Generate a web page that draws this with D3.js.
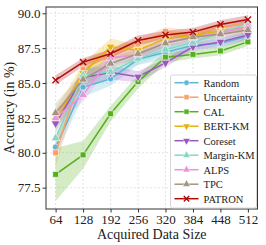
<!DOCTYPE html>
<html lang="en">
<head>
<meta charset="UTF-8">
<title>Accuracy vs data size</title>
<script src="https://cdn.jsdelivr.net/npm/d3@7"></script>
<style>
  body { margin: 0; background: #fff; }
  text { font-family: "Liberation Serif", "DejaVu Serif", serif; fill: #222; }
</style>
</head>
<body>
<script>
// data
var sizes = [64, 128, 192, 256, 320, 384, 448, 512];
var names = ["Random", "Uncertainty", "CAL", "BERT-KM", "Coreset", "Margin-KM", "ALPS", "TPC", "PATRON"];

var random      = [80.4, 84.7, 85.3, 86.7, 87.2, 87.7, 87.85, 88.35];
var uncertainty = [80.0, 86.0, 87.0, 87.8, 88.7, 88.5, 89.0, 89.3];
var cal         = [78.45, 79.85, 82.8, 85.1, 86.85, 87.05, 87.3, 87.95];
var bertkm      = [82.3, 85.7, 87.6, 87.35, 88.2, 88.4, 88.75, 88.95];
var coreset     = [82.1, 85.4, 85.75, 85.45, 86.45, 87.6, 87.95, 88.45];
var marginkm    = [81.05, 85.55, 85.8, 86.75, 87.4, 87.9, 88.6, 89.25];
var alps        = [82.5, 84.15, 86.8, 87.05, 87.9, 88.25, 88.6, 89.05];
var tpc         = [82.85, 85.25, 86.4, 87.1, 87.85, 88.3, 88.5, 88.8];
var patron      = [85.2, 86.5, 87.1, 88.05, 88.45, 88.65, 89.2, 89.55];

// spread (shaded band half-width)
var randomStd      = [0.6, 0.7, 0.5, 0.4, 0.5, 0.3, 0.3, 0.3];
var uncertaintyStd = [1.0, 0.6, 0.5, 0.4, 0.3, 0.3, 0.3, 0.3];
var calStd         = [1.9, 1.0, 0.55, 0.5, 0.4, 0.3, 0.3, 0.3];
var bertkmStd      = [0.8, 0.7, 0.6, 0.4, 0.3, 0.3, 0.3, 0.3];
var coresetStd     = [0.5, 0.6, 0.5, 0.4, 0.3, 0.3, 0.3, 0.3];
var marginkmStd    = [0.8, 0.6, 0.5, 0.4, 0.3, 0.3, 0.3, 0.3];
var alpsStd        = [0.6, 0.5, 0.5, 0.4, 0.3, 0.3, 0.3, 0.3];
var tpcStd         = [0.7, 0.5, 0.4, 0.3, 0.3, 0.3, 0.3, 0.3];
var patronStd      = [0.35, 0.3, 0.3, 0.35, 0.3, 0.3, 0.3, 0.3];

var yTicks = [77.5, 80.0, 82.5, 85.0, 87.5, 90.0];

var values = [random, uncertainty, cal, bertkm, coreset, marginkm, alps, tpc, patron];
var stds = [randomStd, uncertaintyStd, calStd, bertkmStd, coresetStd, marginkmStd, alpsStd, tpcStd, patronStd];
var colors = ["#5ab6d8", "#f7a068", "#55b01c", "#e6b20a", "#9a58bd", "#86d7c2", "#ea93dc", "#a39480", "#b00b0b"];
var shapes = ["circle", "square", "square", "down", "down", "up", "up", "up", "x"];

var series = names.map(function (n, i) {
    return {
        name: n, color: colors[i], shape: shapes[i],
        points: sizes.map(function (s, j) { return { x: s, y: values[i][j], sd: stds[i][j] }; })
    };
});

var width = 266, height = 245;
var margin = { left: 46, right: 8.5, top: 7, bottom: 36 };

var svg = d3.select("body").append("svg")
    .attr("width", width)
    .attr("height", height);

var x = d3.scaleLinear().domain([41.6, 534.4]).range([margin.left, width - margin.right]);
var y = d3.scaleLinear().domain([75.97, 90.45]).range([height - margin.bottom, margin.top]);

// grid
var grid = svg.append("g");
grid.selectAll(".gx").data(sizes).enter().append("line")
    .attr("x1", function (d) { return x(d); }).attr("x2", function (d) { return x(d); })
    .attr("y1", margin.top).attr("y2", height - margin.bottom)
    .attr("stroke", "#dddddd").attr("stroke-width", 0.8).attr("stroke-dasharray", "2,2");
grid.selectAll(".gy").data(yTicks).enter().append("line")
    .attr("y1", function (d) { return y(d); }).attr("y2", function (d) { return y(d); })
    .attr("x1", margin.left).attr("x2", width - margin.right)
    .attr("stroke", "#dddddd").attr("stroke-width", 0.8).attr("stroke-dasharray", "2,2");

// bands
var area = d3.area()
    .x(function (d) { return x(d.x); })
    .y0(function (d) { return y(d.y - d.sd); })
    .y1(function (d) { return y(d.y + d.sd); });
svg.append("g").selectAll("path").data(series).enter().append("path")
    .attr("d", function (d) { return area(d.points); })
    .attr("fill", function (d) { return d.color; })
    .attr("fill-opacity", 0.25);

var line = d3.line()
    .x(function (d) { return x(d.x); })
    .y(function (d) { return y(d.y); });

function marker(g, shape, color, size) {
    if (shape === "x") {
        g.append("path")
            .attr("d", d3.symbol().type(d3.symbolX).size(size * 0.8)())
            .attr("fill", "none").attr("stroke", color).attr("stroke-width", 1.4);
        return;
    }
    var sym = shape === "circle" ? d3.symbolCircle : shape === "square" ? d3.symbolSquare : d3.symbolTriangle;
    var p = g.append("path")
        .attr("d", d3.symbol().type(sym).size(shape === "circle" ? size * 0.9 : size)())
        .attr("fill", color).attr("stroke", "#fff").attr("stroke-width", 0.6);
    if (shape === "down") p.attr("transform", "rotate(180)");
}

var lines = svg.append("g");
series.forEach(function (s) {
    var g = lines.append("g");
    g.append("path")
        .attr("d", line(s.points))
        .attr("fill", "none")
        .attr("stroke", s.color)
        .attr("stroke-width", 1.5);
    g.selectAll(".m").data(s.points).enter().append("g")
        .attr("transform", function (d) { return "translate(" + x(d.x) + "," + y(d.y) + ")"; })
        .each(function () { marker(d3.select(this), s.shape, s.color, 34); });
});

// axes
var xAxis = svg.append("g")
    .attr("transform", "translate(0," + (height - margin.bottom) + ")")
    .call(d3.axisBottom(x).tickValues(sizes).tickSize(3.5).tickPadding(2).tickFormat(d3.format("d")));
var yAxis = svg.append("g")
    .attr("transform", "translate(" + margin.left + ",0)")
    .call(d3.axisLeft(y).tickValues(yTicks).tickSize(3.5).tickPadding(2).tickFormat(d3.format(".1f")));
[xAxis, yAxis].forEach(function (a) {
    a.select(".domain").remove();
    a.selectAll("line").attr("stroke", "#333");
    a.selectAll("text").style("font-size", "13px").style("font-family", "Liberation Serif, serif").attr("fill", "#222");
});

// frame
svg.append("rect")
    .attr("x", margin.left).attr("y", margin.top)
    .attr("width", width - margin.left - margin.right)
    .attr("height", height - margin.top - margin.bottom)
    .attr("fill", "none").attr("stroke", "#333").attr("stroke-width", 1);

svg.append("text")
    .attr("x", (margin.left + width - margin.right) / 2)
    .attr("y", 239)
    .attr("text-anchor", "middle")
    .style("font-size", "14px")
    .text("Acquired Data Size");

svg.append("text")
    .attr("transform", "translate(14," + ((margin.top + height - margin.bottom) / 2) + ") rotate(-90)")
    .attr("text-anchor", "middle")
    .style("font-size", "14px")
    .text("Accuracy (in %)");

// legend
var leg = svg.append("g").attr("transform", "translate(170.5,75)");
leg.append("rect")
    .attr("width", 86).attr("height", 133).attr("rx", 2)
    .attr("fill", "#fff").attr("fill-opacity", 0.85)
    .attr("stroke", "#ccc").attr("stroke-width", 0.8);
series.forEach(function (s, i) {
    var row = leg.append("g").attr("transform", "translate(0," + (7.7 + i * 14.5) + ")");
    row.append("line").attr("x1", 4).attr("x2", 28).attr("stroke", s.color).attr("stroke-width", 1.5);
    var m = row.append("g").attr("transform", "translate(16,0)");
    marker(m, s.shape, s.color, 26);
    row.append("text").attr("x", 33).attr("y", 3.8).style("font-size", "10.5px").text(s.name);
});
</script>
</body>
</html>
